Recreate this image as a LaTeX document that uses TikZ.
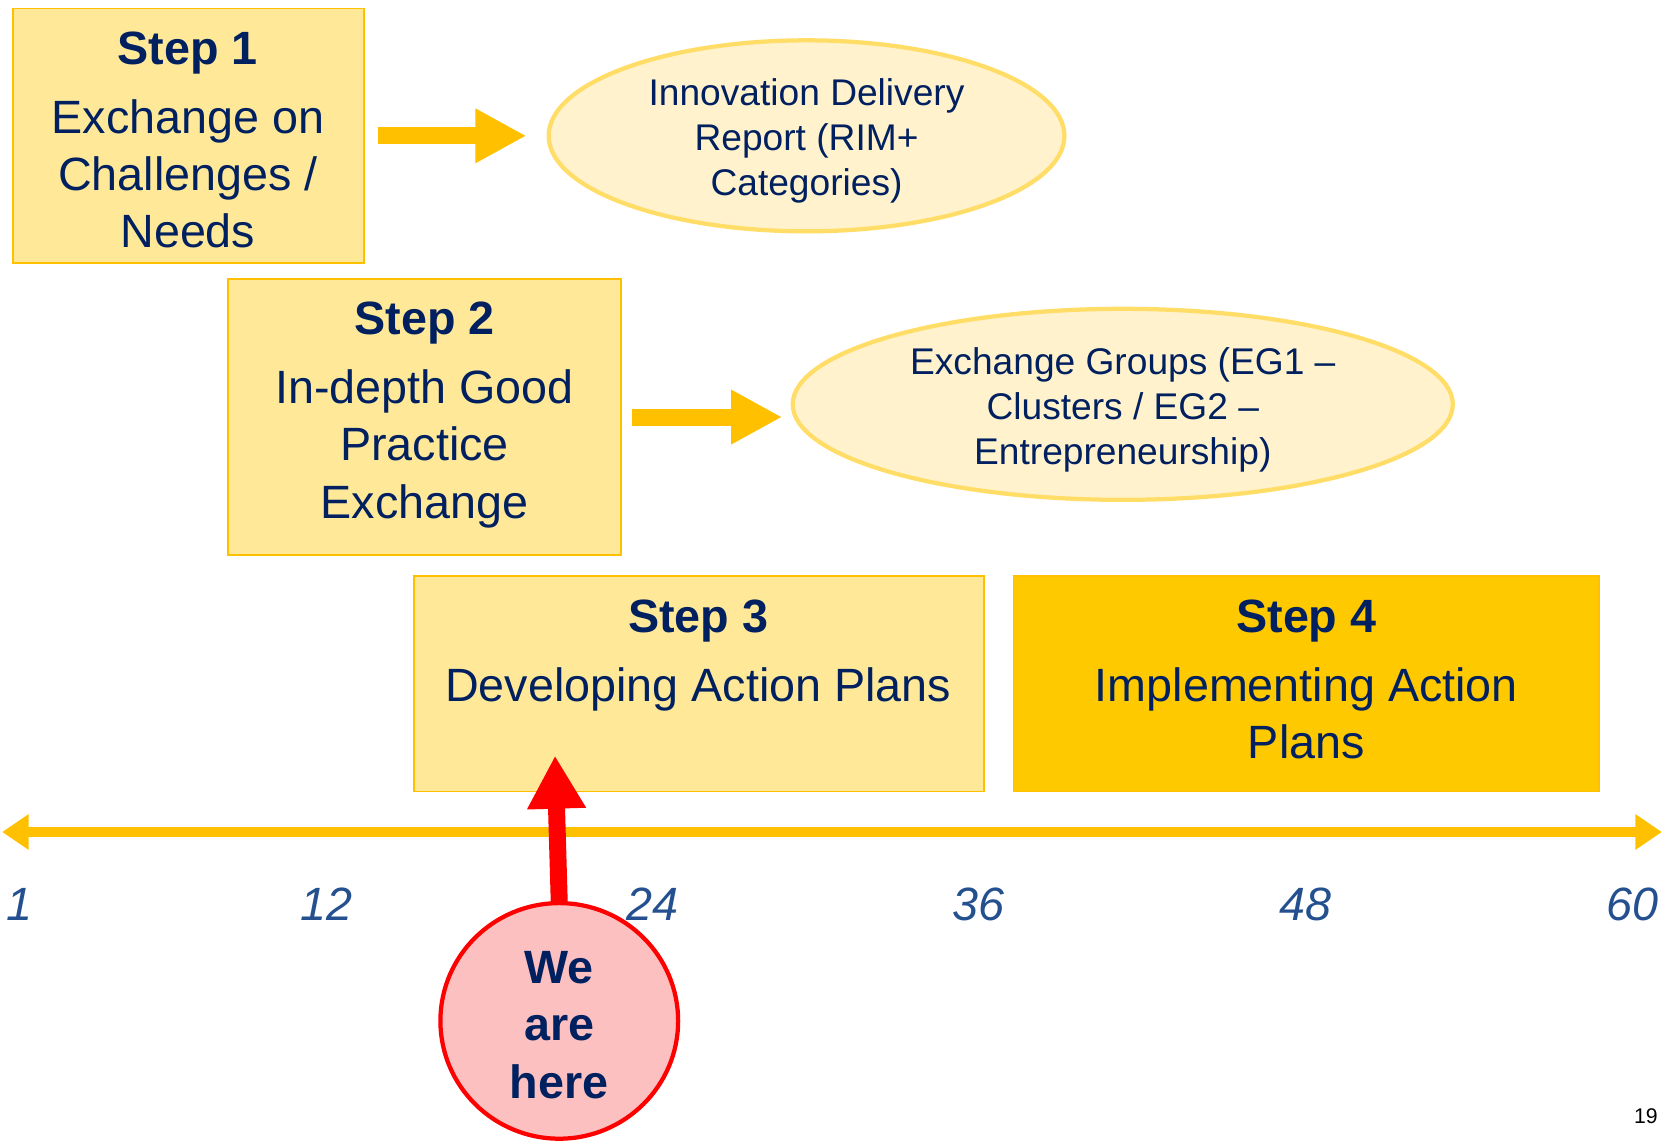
\documentclass[tikz,border=0pt]{standalone}
\usepackage{fontspec}
\setmainfont{Liberation Sans}
\usetikzlibrary{arrows.meta,shapes.geometric}
\definecolor{navy}{HTML}{002060}
\definecolor{gold}{HTML}{FFC000}
\definecolor{darkgold}{HTML}{FFC900}
\definecolor{lightgold}{HTML}{FFE999}
\definecolor{paleg}{HTML}{FFF2CC}
\definecolor{ellborder}{HTML}{FFDD66}
\definecolor{numblue}{HTML}{24508F}
\definecolor{pink}{HTML}{FCC0C0}
\newcommand\fbig{\fontsize{44}{54}\selectfont}
\newcommand\fell{\fontsize{35}{42.5}\selectfont}
\newcommand\fnum{\fontsize{44}{54}\selectfont\itshape}
\begin{document}
\begin{tikzpicture}[x=1pt,y=-1pt,
  stepbox/.style={draw=gold,line width=1.5pt,fill=lightgold,inner sep=0pt},
  darkbox/.style={draw=gold,line width=1.5pt,fill=darkgold,inner sep=0pt},
  steptext/.style={align=center,text=navy,font=\fbig,inner sep=0pt},
  oval/.style={ellipse,draw=ellborder,line width=4pt,fill=paleg,inner sep=0pt},
  ovaltext/.style={align=center,text=navy,font=\fell,inner sep=0pt},
  blockarrow/.style={draw=gold,line width=16pt,-{Triangle[length=48pt,width=48pt]}},
  num/.style={text=numblue,font=\fnum,inner sep=0pt}]
\useasboundingbox (0,0) rectangle (1568,1075);

% Step boxes
\node[stepbox,minimum width=331pt,minimum height=240pt] (s1) at (177.5,128) {};
\node[steptext] (t1) at (177,132) {\textbf{Step 1}\\[11pt]Exchange on\\Challenges /\\Needs};

\node[stepbox,minimum width=370pt,minimum height=260pt] (s2) at (400,393) {};
\node[steptext] (t2) at (400,391) {\textbf{Step 2}\\[11pt]In-depth Good\\Practice\\Exchange};

\node[stepbox,minimum width=537pt,minimum height=203pt] (s3) at (658.5,644.5) {};
\node[steptext] (t3) at (658,618) {\textbf{Step 3}\\[11pt]Developing Action Plans};

\node[darkbox,minimum width=552pt,minimum height=203pt] (s4) at (1231,644.5) {};
\node[steptext] (t4) at (1231,640) {\textbf{Step 4}\\[11pt]Implementing Action\\Plans};

% Ovals
\node[oval,minimum width=486pt,minimum height=180pt] (e1) at (760,128) {};
\node[ovaltext] (o1) at (760,133) {Innovation Delivery\\Report (RIM+\\Categories)};

\node[oval,minimum width=622pt,minimum height=180pt] (e2) at (1058,381) {};
\node[ovaltext] (o2) at (1058,386) {Exchange Groups (EG1 --\\Clusters / EG2 --\\Entrepreneurship)};

% block arrows
\draw[blockarrow,shorten <=12pt,shorten >=19pt] (s1.east) -- (e1.west);
\coordinate (a2s) at (s2.east);
\coordinate (a2e) at (a2s -| e2.west);
\draw[blockarrow,shorten <=10pt,shorten >=8pt] (a2s) -- (a2e);

% timeline
\coordinate (tl) at (2,784);
\coordinate (tr) at (1566,784);
\draw[gold,line width=10pt,{Triangle[length=25pt,width=32pt]}-{Triangle[length=25pt,width=32pt]}] (tl) -- (tr);

\node[num] (n1) at (18,852) {1};
\node[num] (n12) at (308,852) {12};
\node[num] (n24) at (615,852) {24};
\node[num] (n36) at (922,852) {36};
\node[num] (n48) at (1230,852) {48};
\node[num] (n60) at (1538,852) {60};

% we are here
\node[ellipse,draw=red,line width=4pt,fill=pink,minimum width=224pt,minimum height=222pt,inner sep=0pt] (we) at (527,962) {};
\coordinate (here) at (523,712);
\draw[red,line width=16pt,-{Triangle[length=50pt,width=52pt]}] ([yshift=-2pt]we.north) -- (here);
\node[steptext,font=\fbig\bfseries] (wt) at (527,966) {We\\are\\here};

\node[inner sep=0pt,font=\fontsize{20}{24}\selectfont] (pg) at (1551,1052) {19};
\end{tikzpicture}
\end{document}
